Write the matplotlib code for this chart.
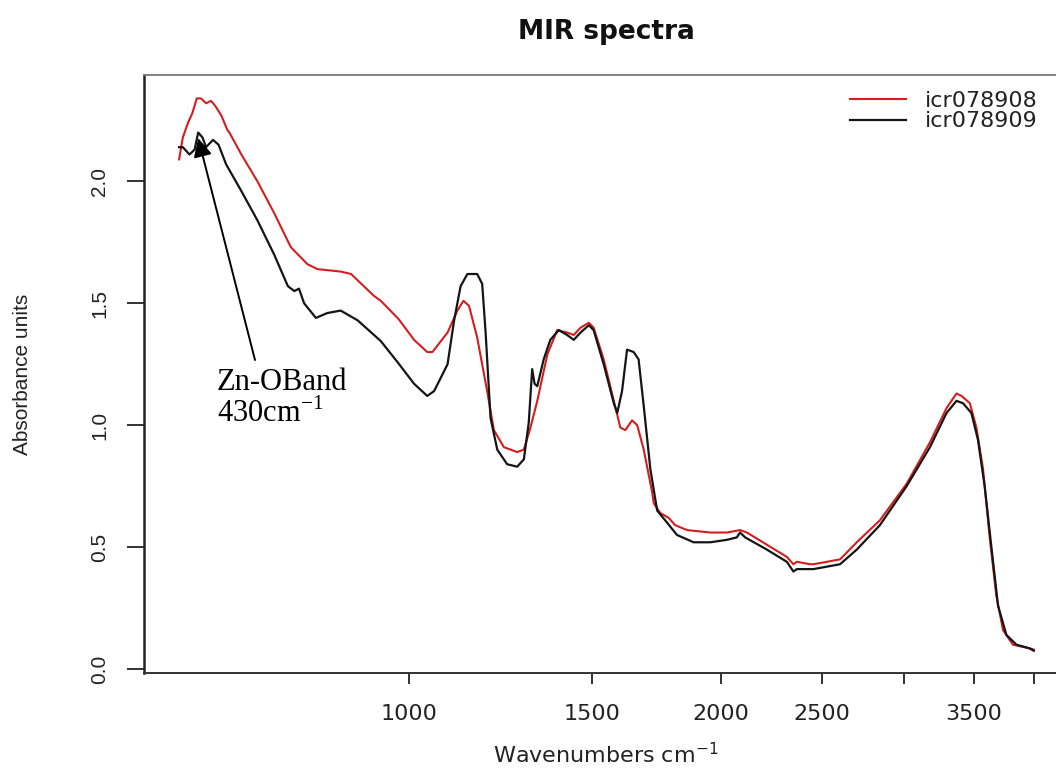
import matplotlib
matplotlib.use("Agg")
import matplotlib.pyplot as plt
from matplotlib.ticker import FixedLocator, FixedFormatter, NullLocator

# ---- data ----
wn_908 = [601, 606, 613, 619, 625, 631, 638, 645, 651, 660, 669, 672, 690, 715, 742,
          770, 799, 817, 860, 880, 926, 940, 978, 1012, 1042, 1054, 1090, 1114, 1129,
          1143, 1164, 1190, 1208, 1235, 1272, 1291, 1310, 1330, 1360, 1390, 1421, 1442,
          1464, 1491, 1507, 1541, 1576, 1599, 1617, 1641, 1660, 1684, 1715, 1722, 1747,
          1780, 1806, 1854, 1952, 2025, 2085, 2117, 2213, 2313, 2347, 2365, 2435, 2454,
          2528, 2603, 2701, 2843, 3017, 3177, 3296, 3370, 3408, 3471, 3522, 3574, 3627,
          3681, 3736, 3819, 3963, 4000]
abs_908 = [2.09, 2.18, 2.24, 2.28, 2.34, 2.34, 2.32, 2.33, 2.31, 2.27, 2.21, 2.20, 2.11,
           2.00, 1.87, 1.73, 1.66, 1.64, 1.63, 1.62, 1.53, 1.51, 1.435, 1.35, 1.30, 1.30,
           1.38, 1.47, 1.51, 1.49, 1.36, 1.14, 0.98, 0.91, 0.89, 0.90, 0.99, 1.10, 1.29,
           1.39, 1.38, 1.37, 1.40, 1.42, 1.40, 1.27, 1.10, 0.99, 0.98, 1.02, 1.00, 0.90,
           0.73, 0.68, 0.64, 0.62, 0.59, 0.57, 0.56, 0.56, 0.57, 0.56, 0.51, 0.46, 0.43,
           0.44, 0.43, 0.43, 0.44, 0.45, 0.52, 0.61, 0.76, 0.93, 1.07, 1.13, 1.12, 1.09,
           0.99, 0.82, 0.54, 0.30, 0.16, 0.10, 0.085, 0.08]

wn_909 = [601, 606, 615, 622, 627, 633, 638, 648, 656, 667, 690, 715, 742, 765, 776,
          784, 793, 814, 835, 860, 893, 940, 975, 1012, 1042, 1058, 1090, 1106, 1122,
          1139, 1164, 1177, 1186, 1199, 1217, 1244, 1272, 1291, 1305, 1315, 1322, 1330,
          1349, 1369, 1395, 1421, 1442, 1464, 1491, 1507, 1541, 1576, 1588, 1605, 1623,
          1647, 1665, 1684, 1709, 1735, 1774, 1813, 1881, 1952, 2025, 2070, 2085, 2109,
          2213, 2313, 2347, 2365, 2454, 2603, 2701, 2843, 3017, 3177, 3296, 3370, 3419,
          3483, 3534, 3587, 3641, 3695, 3764, 3849, 3963, 4000]
abs_909 = [2.14, 2.14, 2.11, 2.13, 2.20, 2.18, 2.14, 2.17, 2.15, 2.07, 1.96, 1.84, 1.70,
           1.57, 1.55, 1.56, 1.50, 1.44, 1.46, 1.47, 1.43, 1.345, 1.26, 1.17, 1.12, 1.14,
           1.25, 1.43, 1.57, 1.62, 1.62, 1.58, 1.38, 1.03, 0.90, 0.84, 0.83, 0.86, 1.01,
           1.23, 1.17, 1.16, 1.27, 1.35, 1.39, 1.37, 1.35, 1.38, 1.41, 1.39, 1.25, 1.09,
           1.05, 1.14, 1.31, 1.30, 1.27, 1.08, 0.82, 0.65, 0.60, 0.55, 0.52, 0.52, 0.53,
           0.54, 0.56, 0.54, 0.49, 0.44, 0.40, 0.41, 0.41, 0.43, 0.49, 0.59, 0.75, 0.91,
           1.05, 1.10, 1.09, 1.05, 0.94, 0.75, 0.50, 0.26, 0.14, 0.10, 0.085, 0.075]

series_names = ["icr078908", "icr078909"]
series_colors = ["#d41e1e", "#151515"]

x_ticks = [1000, 1500, 2000, 2500, 3000, 3500, 4000]
x_tick_labels = ["1000", "1500", "2000", "2500", "", "3500", ""]
y_ticks = [0.0, 0.5, 1.0, 1.5, 2.0]
y_tick_labels = ["0.0", "0.5", "1.0", "1.5", "2.0"]

# ---- figure ----
W, H = 1056, 772
fig = plt.figure(figsize=(W / 100, H / 100), dpi=100)
ax = fig.add_axes([144 / W, 1 - 673 / H, (1068 - 144) / W, (673 - 75) / H])

ax.plot(wn_908, abs_908, color=series_colors[0], lw=1.5, label=series_names[0])
ax.plot(wn_909, abs_909, color=series_colors[1], lw=1.6, label=series_names[1])

ax.set_xscale("log")
ax.set_xlim(556, 4315)
ax.set_ylim(-0.016, 2.436)

ax.xaxis.set_major_locator(FixedLocator(x_ticks))
ax.xaxis.set_major_formatter(FixedFormatter(x_tick_labels))
ax.xaxis.set_minor_locator(NullLocator())
ax.set_yticks(y_ticks)
ax.set_yticklabels(y_tick_labels, rotation=90, va="center",
                   family="Liberation Sans", fontsize=15)
for lab in ax.get_xticklabels():
    lab.set_family("DejaVu Sans")
    lab.set_fontsize(16)
    lab.set_color("#222222")

ax.tick_params(axis="x", length=8, width=1.3, pad=14, colors="#222222")
ax.tick_params(axis="y", length=12, width=1.3, pad=13, colors="#222222")

# frame: thin gray box, thicker axis lines
for s in ["top", "right"]:
    ax.spines[s].set_color("#777777")
    ax.spines[s].set_linewidth(1.3)
ax.spines["bottom"].set_color("#333333")
ax.spines["bottom"].set_linewidth(1.4)
ax.spines["left"].set_color("#222222")
ax.spines["left"].set_linewidth(1.8)

ax.set_title("MIR spectra", fontsize=19, fontweight="bold", family="DejaVu Sans",
             pad=26, color="#111111")
ax.set_xlabel("Wavenumbers cm$^{-1}$", fontsize=16, family="DejaVu Sans",
              labelpad=13, color="#222222")
ax.set_ylabel("Absorbance units", fontsize=15, family="Liberation Sans",
              labelpad=42, color="#222222")

leg = ax.legend(loc="upper left", bbox_to_anchor=(850 / W, 1 - 91 / H),
                bbox_transform=fig.transFigure, frameon=False,
                prop={"family": "DejaVu Sans", "size": 16},
                handlelength=2.5, handletextpad=0.85, labelspacing=0.02,
                borderpad=0, borderaxespad=0)
for t in leg.get_texts():
    t.set_color("#222222")

# annotation
ax.annotate("", xy=(627, 2.177), xycoords="data",
            xytext=(255, H - 360), textcoords="figure pixels",
            arrowprops=dict(arrowstyle="-|>", color="black", lw=1.4,
                            mutation_scale=28, shrinkA=0, shrinkB=0))
fig.text(217 / W, 1 - 368 / H, "Zn-OBand\n430cm$^{\\mathregular{-1}}$",
         family="Liberation Serif", fontsize=22, va="top", ha="left",
         linespacing=1.05, color="black")

fig.savefig("out.png", dpi=100)
